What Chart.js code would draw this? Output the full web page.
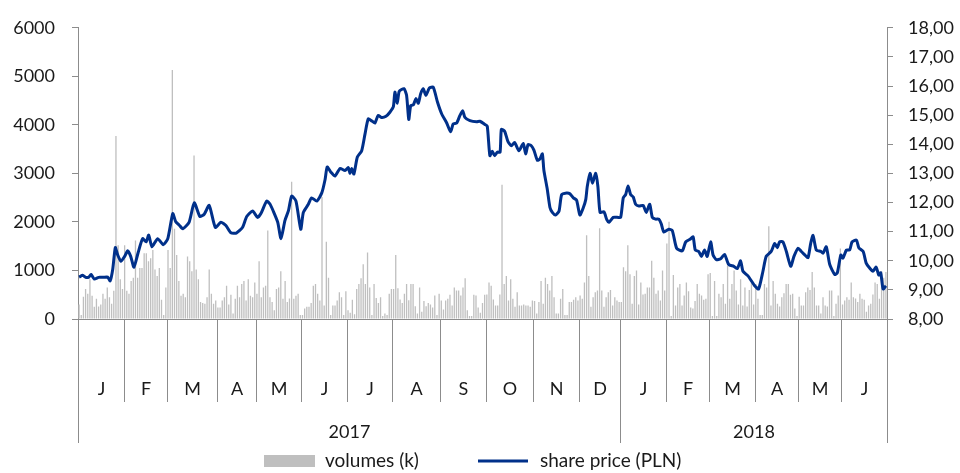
<!DOCTYPE html>
<html>
<head>
<meta charset="utf-8">
<script src="https://cdn.jsdelivr.net/npm/chart.js@4.4.1/dist/chart.umd.min.js"></script>
<style>
  html, body { margin: 0; padding: 0; background: #fff; }
  #wrap { width: 960px; height: 473px; }
</style>
</head>
<body>
<div id="wrap"><canvas id="chart" width="960" height="473"></canvas></div>
<script>
// Month / year labels of the session axis
const monthLabels = ['J', 'F', 'M', 'A', 'M', 'J', 'J', 'A', 'S', 'O', 'N', 'D', 'J', 'F', 'M', 'A', 'M', 'J'];
const yearLabels = ['2017', '2018'];
const monthsInYear = [12, 6];

// Daily volumes (k), one row per month, one value per session
const volumesByMonth = [
  [300, 80, 460, 620, 520, 820, 480, 250, 415, 260, 300, 520, 415, 650, 450, 315, 580, 3770, 1520, 820, 620],
  [1520, 580, 520, 785, 850, 1620, 850, 1050, 1050, 1355, 1355, 1190, 1250, 1420, 1020, 885, 1050, 395, 80, 650],
  [1420, 1050, 5130, 1860, 1320, 785, 480, 520, 450, 1290, 1190, 985, 3370, 1020, 820, 350, 330, 315, 450, 1020, 520, 315, 380],
  [235, 235, 380, 450, 685, 300, 500, 115, 415, 685, 450, 720, 785, 380, 820, 480, 450, 750],
  [520, 1190, 450, 650, 685, 1825, 450, 350, 180, 620, 650, 985, 415, 785, 350, 420, 2830, 415, 480, 520, 80],
  [80, 215, 250, 250, 330, 685, 720, 520, 380, 2515, 280, 1590, 850, 80, 280, 280, 380, 550, 450, 80, 570],
  [180, 130, 395, 100, 620, 720, 840, 1130, 720, 1370, 650, 80, 720, 435, 330, 450, 60, 115, 80, 520, 620],
  [620, 1320, 635, 400, 330, 520, 720, 385, 720, 720, 265, 115, 650, 150, 370, 265, 330, 300, 235, 485, 80, 520],
  [380, 195, 380, 415, 500, 280, 650, 585, 585, 485, 650, 840, 180, 60, 60, 500, 485, 235, 130, 330, 500],
  [505, 750, 685, 400, 280, 280, 505, 2765, 720, 885, 380, 820, 415, 250, 550, 280, 280, 300, 280, 280, 250, 380],
  [370, 115, 350, 785, 315, 850, 720, 585, 885, 450, 115, 115, 415, 620, 80, 80, 350, 350, 395, 450, 380],
  [485, 415, 750, 1725, 885, 250, 450, 550, 585, 1870, 585, 250, 450, 550, 600, 280, 450, 380, 350],
  [350, 1065, 985, 1520, 920, 315, 885, 1000, 300, 750, 505, 520, 650, 650, 1200, 850, 520, 585, 380, 1000, 585],
  [1555, 2005, 60, 905, 280, 650, 720, 280, 485, 750, 570, 235, 215, 370, 720, 520, 485, 395, 415, 920],
  [950, 60, 785, 60, 520, 450, 720, 315, 1090, 415, 720, 1000, 585, 300, 820, 280, 650, 260, 600, 750, 300],
  [720, 415, 80, 80, 720, 650, 1910, 280, 785, 520, 315, 260, 450, 530, 720, 720, 500, 520, 215, 60],
  [460, 280, 280, 550, 650, 600, 970, 650, 280, 280, 115, 450, 280, 260, 585, 585, 60, 315, 485, 1455],
  [300, 380, 450, 395, 750, 450, 420, 350, 520, 415, 395, 150, 280, 315, 505, 750, 720, 415, 985, 850, 970]
];

// Share price (PLN): [session index, price]
const sharePrice = [
  [0, 9.44], [1.7, 9.50], [3, 9.43], [4.5, 9.44], [5.5, 9.53], [7, 9.37], [9, 9.43], [11, 9.43],
  [13.2, 9.44], [14.3, 9.31], [15.5, 9.70], [16.7, 10.45], [17.8, 10.20], [19.3, 9.98], [21, 10.15],
  [22.4, 10.34], [23.8, 10.15], [25.3, 9.78], [27.3, 10.30], [29.3, 10.76], [30.9, 10.65], [32.1, 10.88],
  [33.6, 10.48], [36.2, 10.76], [38.8, 10.55], [40.9, 10.76], [43.2, 11.62], [44.5, 11.35], [46.1, 11.23],
  [47.8, 11.10], [50.7, 11.32], [53.1, 11.99], [55.7, 11.52], [57.7, 11.60], [60.0, 11.90], [62.8, 11.15],
  [65.4, 11.32], [67.7, 11.21], [70.0, 10.96], [72.5, 10.95], [75.4, 11.15], [77.3, 11.52], [80.0, 11.71],
  [82.3, 11.49], [83.9, 11.63], [86.5, 12.05], [88, 11.95], [89.5, 11.71], [91.6, 11.32], [93.1, 10.76],
  [94.9, 11.38], [96.5, 11.71], [98.0, 12.22], [100.0, 12.05], [102.2, 11.08], [103.4, 11.66], [105.7, 11.94],
  [107.2, 12.16], [109.6, 12.05], [111.9, 12.33], [113.4, 12.78], [114.4, 13.22], [116, 13.05], [118.0, 12.91],
  [120.3, 13.17], [122.6, 13.10], [124.1, 13.20], [124.9, 13.00], [125.7, 13.17], [126.7, 12.98], [128.3, 13.56],
  [130.3, 13.78], [131.8, 14.34], [133.3, 14.87], [135, 14.80], [136.4, 14.73], [137.9, 14.99], [139.5, 14.92],
  [141.5, 14.96], [143.3, 15.10], [144.9, 15.29], [145.6, 15.79], [146.7, 15.41], [147.6, 15.82], [149.8, 15.91],
  [151.0, 15.68], [152.0, 14.85], [152.9, 15.33], [154.1, 15.35], [155.3, 15.57], [156.4, 15.41], [157.5, 15.74],
  [158.7, 15.91], [159.9, 15.68], [161.5, 15.93], [163.3, 15.96], [165.2, 15.46], [167.2, 15.04], [169.5, 14.73],
  [171.3, 14.43], [172.5, 14.70], [174.1, 14.73], [175.6, 14.99], [176.9, 15.15], [177.9, 14.92], [180.2, 14.81],
  [183.3, 14.77], [184.8, 14.79], [187.1, 14.68], [188.2, 14.62], [189.4, 13.61], [190.5, 13.76], [191.6, 13.61],
  [192.8, 13.73], [194.1, 13.73], [194.7, 14.51], [196.2, 14.45], [197.7, 14.10], [199.3, 13.95], [200.8, 14.06],
  [202.8, 13.78], [204.8, 14.03], [205.9, 13.67], [207.0, 13.99], [208.5, 13.95], [209.7, 13.80], [211.3, 13.45],
  [212.5, 13.50], [213.6, 13.67], [214.3, 13.11], [215.9, 12.44], [217.1, 11.83], [218.2, 11.66], [219.7, 11.57],
  [221.3, 11.71], [222.5, 12.27], [224.8, 12.33], [226.3, 12.30], [227.9, 12.16], [229.4, 12.08], [230.9, 11.57],
  [232.5, 11.83], [233.6, 12.10], [234.3, 12.55], [235.6, 13.00], [236.7, 12.66], [238.2, 13.00], [239.2, 12.55],
  [240.2, 11.66], [242.0, 11.68], [243.3, 11.41], [244.3, 11.32], [246.3, 11.49], [248.1, 11.49], [249.7, 11.49],
  [250.9, 12.16], [252.0, 12.27], [253.1, 12.57], [254.3, 12.27], [255.5, 12.19], [256.6, 11.94], [258.1, 11.88],
  [260.1, 11.90], [261.5, 11.66], [263.1, 11.94], [264.3, 11.49], [265.8, 11.43], [267.3, 11.43], [268.4, 11.27],
  [269.6, 10.99], [271.9, 11.08], [273.5, 11.04], [275.5, 10.43], [278.1, 10.34], [279.7, 10.65], [281.7, 10.74],
  [283.1, 10.82], [284.1, 10.37], [285.7, 10.32], [286.9, 10.15], [288.4, 10.37], [289.6, 10.15], [291.2, 10.65],
  [292.3, 10.20], [293.8, 10.04], [295.8, 10.07], [297.6, 10.22], [299.5, 9.87], [301.9, 9.81], [303.5, 9.73],
  [305.0, 10.00], [306.1, 9.64], [308.4, 9.48], [311.5, 9.14], [313.3, 9.03], [315.3, 9.64], [316.8, 10.15],
  [319.1, 10.32], [320.7, 10.59], [321.9, 10.45], [323.0, 10.65], [324.5, 10.65], [326.1, 10.32], [328.1, 9.81],
  [329.6, 10.15], [331.5, 10.43], [333.0, 10.32], [334.6, 10.20], [336.1, 10.11], [337.3, 10.59], [338.4, 10.87],
  [339.9, 10.37], [342.0, 10.32], [343.0, 10.26], [344.5, 10.48], [346.1, 9.87], [348.4, 9.53], [349.6, 9.59],
  [351.2, 10.20], [352.2, 10.09], [353.8, 10.37], [355.3, 10.37], [356.4, 10.65], [358.4, 10.71], [359.5, 10.45],
  [361.5, 10.32], [362.9, 9.92], [364.5, 9.75], [366.0, 9.64], [367.5, 9.78], [368.7, 9.51], [369.6, 9.59],
  [370.7, 9.03], [372.0, 9.14]
];

const AXIS_GREY = '#8C8C8C';
const TEXT = '#1A1A1A';
const BAR_GREY = '#BFBFBF';
const LINE_BLUE = '#00308A';
const FONT = 'Lato';

const dailyVolumes = volumesByMonth.flat();
const dayCount = dailyVolumes.length;

// index of the first session of every month
const monthStart = [];
volumesByMonth.reduce((acc, m) => { monthStart.push(acc); return acc + m.length; }, 0);

// month and year separators + labels under the plot
const periodAxis = {
    id: 'periodAxis',
    afterDraw(chart) {
        const { ctx, chartArea, scales: { x } } = chart;
        const base = chartArea.bottom;
        const edge = d => Math.round(x.getPixelForValue(d - 0.5)) + 0.5;

        const yearEdges = [0];
        let m = 0;
        monthsInYear.forEach(n => { m += n; yearEdges.push(m < monthStart.length ? monthStart[m] : dayCount); });

        ctx.save();
        ctx.strokeStyle = AXIS_GREY;
        ctx.lineWidth = 1;

        ctx.beginPath();
        ctx.moveTo(chartArea.left, Math.round(base) + 0.5);
        ctx.lineTo(chartArea.right, Math.round(base) + 0.5);
        ctx.stroke();

        monthStart.concat(dayCount).forEach(d => {
            const px = edge(d);
            const len = yearEdges.includes(d) ? 124 : 83;
            ctx.beginPath();
            ctx.moveTo(px, base);
            ctx.lineTo(px, base + len);
            ctx.stroke();
        });

        ctx.fillStyle = TEXT;
        ctx.font = `18px ${FONT}`;
        ctx.textAlign = 'center';
        ctx.textBaseline = 'middle';
        monthLabels.forEach((label, i) => {
            const from = monthStart[i];
            const to = i + 1 < monthStart.length ? monthStart[i + 1] : dayCount;
            ctx.fillText(label, (edge(from) + edge(to)) / 2, base + 70);
        });
        yearLabels.forEach((label, i) => {
            ctx.fillText(label, (edge(yearEdges[i]) + edge(yearEdges[i + 1])) / 2, base + 113);
        });
        ctx.restore();
    }
};

// legend row at the bottom
const bottomLegend = {
    id: 'bottomLegend',
    afterDraw(chart) {
        const { ctx } = chart;
        const y = 461;
        ctx.save();
        ctx.font = `19px ${FONT}`;
        ctx.textBaseline = 'middle';
        ctx.textAlign = 'left';

        // volumes swatch + label
        ctx.fillStyle = BAR_GREY;
        ctx.fillRect(264, y - 6, 51, 12);
        ctx.fillStyle = TEXT;
        ctx.fillText(chart.data.datasets[1].label, 325, y);

        // price line sample + label
        ctx.strokeStyle = LINE_BLUE;
        ctx.lineWidth = 3;
        ctx.beginPath();
        ctx.moveTo(478, y);
        ctx.lineTo(528, y);
        ctx.stroke();
        ctx.fillText(chart.data.datasets[0].label, 540, y);
        ctx.restore();
    }
};

const ctx = document.getElementById('chart').getContext('2d');
new Chart(ctx, {
    type: 'bar',
    data: {
        datasets: [
            {
                type: 'line',
                label: 'share price (PLN)',
                data: sharePrice.map(([d, p]) => ({ x: d, y: p })),
                borderColor: LINE_BLUE,
                backgroundColor: LINE_BLUE,
                borderWidth: 3,
                pointRadius: 0,
                tension: 0.2,
                borderJoinStyle: 'round',
                fill: false,
                yAxisID: 'y2',
                order: 1
            },
            {
                type: 'bar',
                label: 'volumes (k)',
                data: dailyVolumes.map((v, i) => ({ x: i, y: v })),
                backgroundColor: BAR_GREY,
                borderWidth: 0,
                barPercentage: 0.6,
                categoryPercentage: 1,
                yAxisID: 'y',
                order: 2
            }
        ]
    },
    options: {
        responsive: false,
        animation: false,
        devicePixelRatio: 1,
        layout: { padding: { top: 21, bottom: 154, left: 0, right: 0 } },
        plugins: {
            legend: { display: false },
            tooltip: { enabled: false }
        },
        scales: {
            x: {
                type: 'linear',
                min: -0.5,
                max: dayCount - 0.5,
                offset: false,
                display: false
            },
            y: {
                position: 'left',
                min: 0,
                max: 6000,
                ticks: {
                    stepSize: 1000,
                    padding: 17,
                    color: TEXT,
                    font: { family: FONT, size: 18 },
                    callback: v => String(v)
                },
                grid: { drawOnChartArea: false, drawTicks: true, tickLength: 6, color: AXIS_GREY },
                border: { color: AXIS_GREY },
                afterFit: s => { s.width = 78; }
            },
            y2: {
                position: 'right',
                min: 8,
                max: 18,
                ticks: {
                    stepSize: 1,
                    padding: 15,
                    color: TEXT,
                    font: { family: FONT, size: 18 },
                    callback: v => v.toFixed(2).replace('.', ',')
                },
                grid: { drawOnChartArea: false, drawTicks: true, tickLength: 6, color: AXIS_GREY },
                border: { color: AXIS_GREY },
                afterFit: s => { s.width = 73; }
            }
        }
    },
    plugins: [periodAxis, bottomLegend]
});
</script>
</body>
</html>
